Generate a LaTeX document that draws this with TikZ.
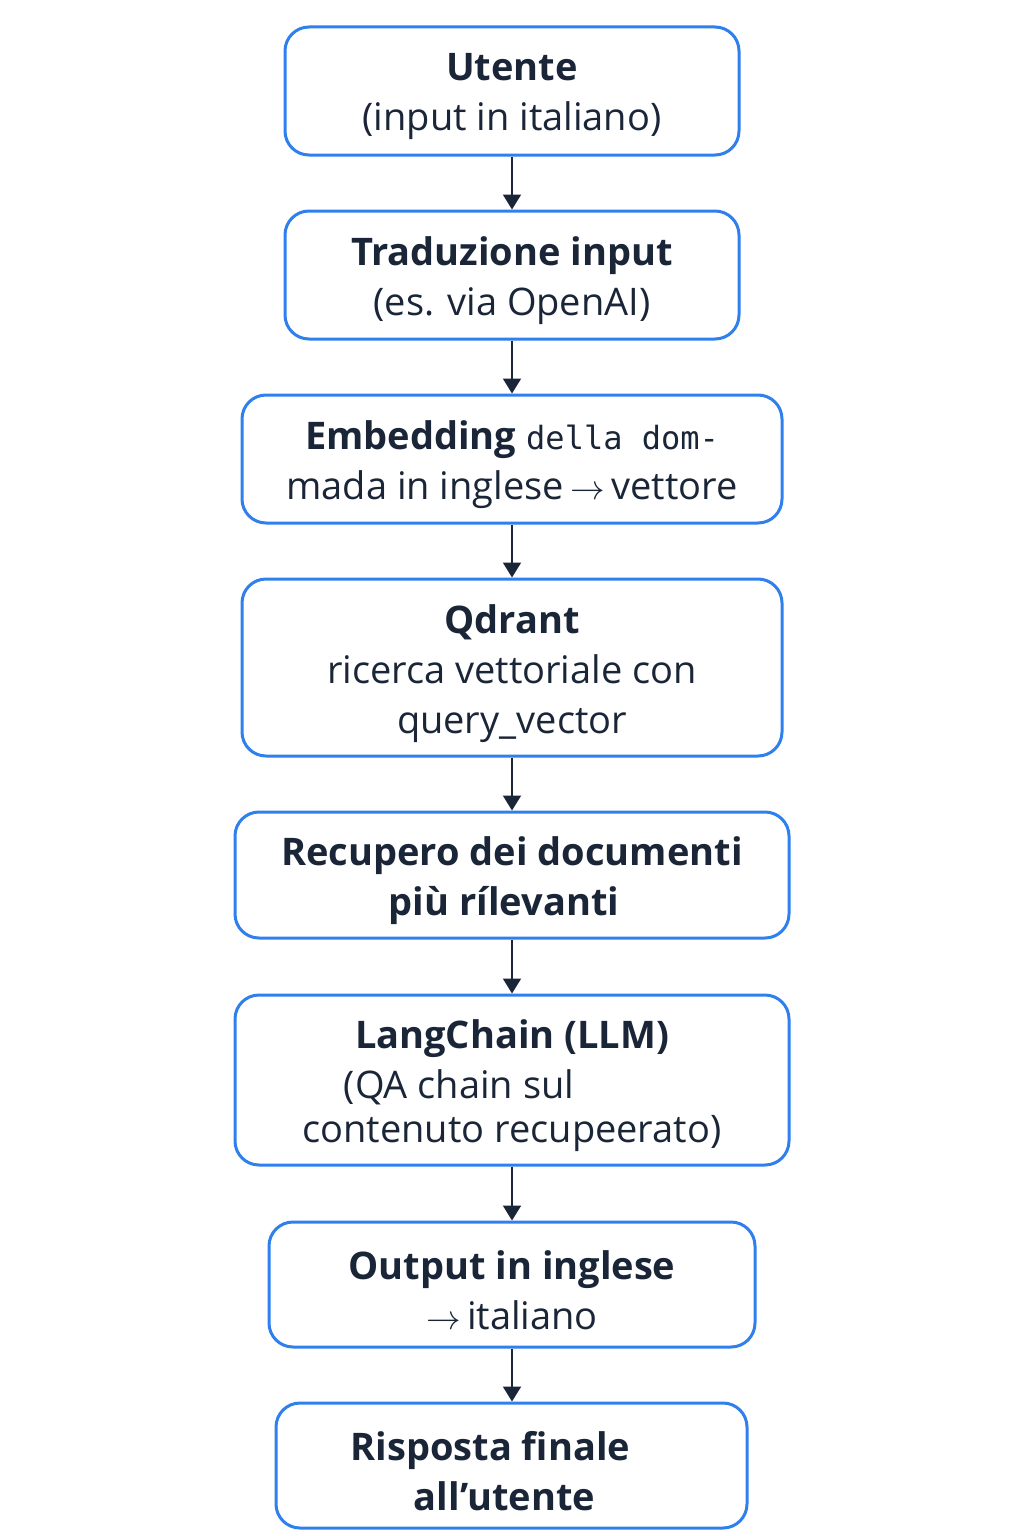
\documentclass[tikz,border=0pt]{standalone}
\usepackage{fontspec}
\setmainfont{Open Sans}
\setmonofont{DejaVu Sans Mono}
\usetikzlibrary{arrows.meta}
\definecolor{boxblue}{HTML}{2F80ED}
\definecolor{ink}{HTML}{1A2638}
\tikzset{
  stepbox/.style={draw=boxblue,line width=1.5pt,rounded corners=12pt,fill=white,inner sep=0pt},
  boxtext/.style={align=center,text=ink,font=\fontsize{19}{25}\selectfont,yshift=-3pt,inner sep=0pt},
  flow/.style={draw=ink,line width=1pt,-{Triangle[width=9pt,length=7.5pt]}}
}
\newcommand{\hd}[1]{{\bfseries #1}}
\begin{document}
\begin{tikzpicture}[x=0.5pt,y=-0.5pt]
  \fill[white] (0,0) rectangle (1024,1536);
  \node[stepbox,minimum width=227pt,minimum height=64pt,
    label={[boxtext]center:{\hd{Utente}\\(input in italiano)}}] (utente) at (512,91) {};
  \node[stepbox,minimum width=227pt,minimum height=64pt,
    label={[boxtext]center:{\hd{Traduzione input}\\(es. via OpenAI)}}] (trad) at (512,275) {};
  \node[stepbox,minimum width=270pt,minimum height=64pt,
    label={[boxtext]center:{\hd{Embedding} {\ttfamily\fontsize{16}{25}\selectfont della dom-}\\mada in inglese\,$\rightarrow$\,vettore}}] (embed) at (512,459) {};
  \node[stepbox,minimum width=270pt,minimum height=88.5pt,
    label={[boxtext]center:{\hd{Qdrant}\\ricerca vettoriale con\\query\_vector}}] (qdrant) at (512,667.5) {};
  \node[stepbox,minimum width=277pt,minimum height=63pt,
    label={[boxtext]center:{\hd{Recupero dei documenti}\\\hd{più rílevanti}\rule{8pt}{0pt}}}] (recupero) at (512,875) {};
  \node[stepbox,minimum width=277pt,minimum height=85pt,
    label={[boxtext]center:{\hd{LangChain (LLM)}\\(QA chain sul\rule{53pt}{0pt}\\[-3pt]contenuto recupeerato)}}] (chain) at (512,1080) {};
  \node[stepbox,minimum width=243pt,minimum height=62.5pt,
    label={[boxtext]center:{\hd{Output in inglese}\\$\rightarrow$\,italiano}}] (output) at (512,1284.5) {};
  \node[stepbox,minimum width=235.5pt,minimum height=62.5pt,
    label={[boxtext]center:{\hd{Risposta finale}\rule{21pt}{0pt}\\\hd{all’utente}\rule{7pt}{0pt}}}] (risposta) at (511.5,1465.5) {};
  \draw[flow] (utente) -- (trad);
  \draw[flow] (trad) -- (embed);
  \draw[flow] (embed) -- (qdrant);
  \draw[flow] (qdrant) -- (recupero);
  \draw[flow] (recupero) -- (chain);
  \draw[flow] (chain) -- (output);
  \draw[flow] (output.south) -- (output.south |- risposta.north);
\end{tikzpicture}
\end{document}
